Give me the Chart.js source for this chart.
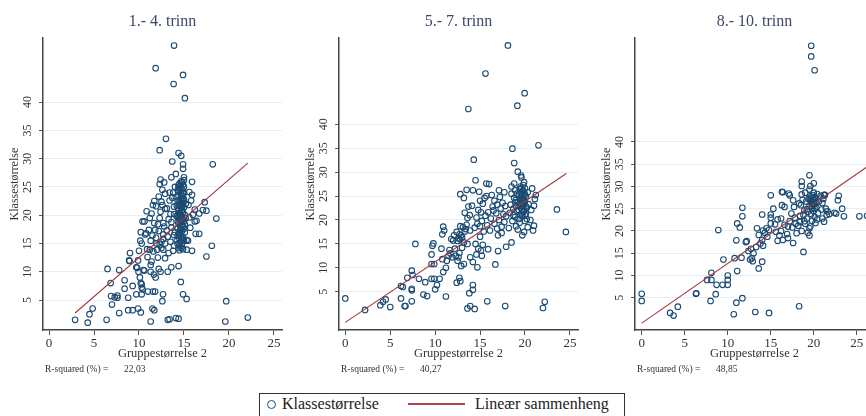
<!DOCTYPE html>
<html>
<head>
<meta charset="utf-8">
<script src="https://cdn.jsdelivr.net/npm/chart.js@4/dist/chart.umd.min.js"></script>
<style>
  html, body { margin: 0; padding: 0; background: #fff; overflow: hidden; }
  body { width: 866px; height: 416px; position: relative; font-family: 'Liberation Serif', serif; }
  canvas { position: absolute; top: 0; }
  .legend { position: absolute; left: 259px; top: 393px; width: 366px; height: 30px; border: 1px solid #333; box-sizing: border-box; }
  .legend .dot { position: absolute; left: 7px; top: 6px; width: 7px; height: 7px; border: 1.3px solid #1b4a72; border-radius: 50%; }
  .legend .ln { position: absolute; left: 148px; top: 9px; width: 57px; height: 1.5px; background: #b0464b; }
  .legend span { position: absolute; top: 0px; font-size: 16px; line-height: 20px; color: #222; }
</style>
</head>
<body>
<canvas id="c1" width="290" height="380" style="left:0px"></canvas>
<canvas id="c2" width="290" height="380" style="left:296px"></canvas>
<canvas id="c3" width="290" height="380" style="left:592px"></canvas>
<div class="legend">
  <div class="dot"></div><span style="left:22px">Klassestørrelse</span>
  <div class="ln"></div><span style="left:215px">Lineær sammenheng</span>
</div>
<script>
// panel titles, tick labels, r-squared
const titles = ['1.- 4. trinn', '5.- 7. trinn', '8.- 10. trinn'];
const rsq = ['22,03', '40,27', '48,85'];
const xTicks = [0, 5, 10, 15, 20, 25];
const yTicks = [5, 10, 15, 20, 25, 30, 35, 40];

// 1.-4. trinn  [gruppestørrelse, klassestørrelse]
const pts14 = [
  [2.9,1.5],[4.3,1.0],[4.5,2.5],[4.85,3.5],[6.4,1.5],[6.5,10.5],[6.85,8.0],[7.0,4.2],[6.9,5.7],[7.3,5.5],[7.6,5.8],[7.6,5.4],
  [7.8,2.7],[7.8,10.3],[8.4,8.5],[8.4,7.0],[8.8,5.4],[8.8,3.2],[8.95,11.9],[9.0,13.3],[8.9,12.0],[9.3,7.5],[9.3,3.2],[9.7,6.0],
  [9.9,3.5],[9.9,12.0],[9.8,10.7],[10.0,13.7],[10.2,2.8],[9.7,10.8],[10.1,9.0],[9.95,10.0],
  [10.2,17.0],[10.15,15.5],[10.3,15.0],[10.2,8.0],[10.3,7.2],[10.3,6.0],[10.5,10.3],[10.4,18.9],[10.6,18.9],[10.85,20.7],
  [10.7,16.6],[10.95,12.6],[11.0,6.5],[11.2,13.9],[10.4,6.9],[10.3,7.8],[10.6,10.2],[10.8,16.8],[10.9,14.0],
  [11.3,11.2],[11.3,10.0],[11.3,1.2],[11.5,3.5],[11.7,3.2],[11.65,9.5],[11.85,9.0],[11.55,6.5],[11.8,6.5],[11.7,22.5],
  [11.55,21.8],[11.9,21.6],[11.7,18.6],[11.8,17.4],[11.9,16.0],[11.95,15.0],[12.0,13.9],[12.1,12.5],[11.4,20.3],[11.2,19.5],
  [11.6,13.6],[11.4,11.8],[11.1,17.4],[11.5,16.4],[11.3,15.5],
  [12.2,10.5],[12.4,10.0],[12.3,19.5],[12.5,15.3],[12.6,21.8],[12.7,13.9],[12.7,15.8],[12.7,16.6],[12.67,6.0],[12.6,4.8],
  [12.7,18.6],[12.9,15.0],[12.8,18.0],[12.9,21.1],[12.4,26.3],[12.8,25.8],[12.3,25.5],[12.3,31.5],[12.2,23.3],[12.5,22.4],
  [12.4,20.6],[12.2,17.2],[12.9,23.8],[12.6,24.5],[12.1,18.4],[12.9,12.4],[12.5,14.2],[12.3,14.8],
  [13.2,10.0],[13.2,1.5],[13.4,24.0],[13.0,33.5],[13.4,1.6],[13.6,10.8],[13.8,13.7],[13.9,16.5],[13.7,29.5],[13.6,26.7],
  [13.8,24.0],[13.3,19.3],[13.5,20.2],[13.1,17.3],[13.6,18.8],[13.9,21.5],[13.4,22.6],[13.7,23.1],[13.2,16.2],[13.5,15.3],
  [13.9,14.6],[13.3,13.3],[13.9,20.2],[13.85,43.2],[13.9,50.0],[13.6,17.8],[13.1,21.2],[11.85,46.0],
  [14.1,1.8],[14.4,1.7],[14.4,11.0],[14.65,8.2],[14.9,6.0],[15.3,5.2],[14.1,27.3],[14.4,31.0],[14.7,30.5],[14.9,29.0],
  [14.9,28.2],[15.0,26.7],[15.0,26.2],[14.4,25.3],[14.3,24.4],[14.9,44.8],[15.1,40.7],
  [14.5,13.8],[14.7,14.2],[14.9,14.0],[14.3,14.9],[14.6,15.2],[14.8,15.0],[15.0,15.5],[14.4,16.0],[14.7,16.3],[14.9,16.1],
  [14.5,16.9],[14.8,17.2],[15.1,17.0],[14.3,17.6],[14.6,17.9],[14.9,18.1],[14.4,18.6],[14.7,18.8],[15.0,18.9],[14.5,19.4],
  [14.8,19.6],[14.3,20.1],[14.6,20.3],[14.9,20.5],[15.1,20.0],[14.4,21.0],[14.7,21.2],[15.0,21.4],[14.5,21.9],[14.8,22.1],
  [14.3,22.6],[14.6,22.8],[14.9,23.0],[14.4,23.5],[14.7,23.7],[15.0,23.9],[14.5,24.4],[14.8,24.6],[14.6,25.2],[14.9,25.4],
  [14.7,26.0],[14.5,19.0],[14.8,20.9],[14.6,17.3],[14.9,22.5],[14.7,24.2],[15.2,19.5],[15.2,22.0],[15.3,15.6],[15.3,13.9],
  [14.2,15.6],[14.2,19.8],[14.2,21.7],[14.1,23.2],[14.0,17.0],[14.0,25.0],
  [14.6,14.5],[14.8,15.8],[14.5,16.5],[14.7,17.6],[14.9,19.2],[14.6,19.9],[14.8,21.6],[14.5,22.4],[14.7,23.0],[14.9,24.0],
  [14.6,24.8],[14.8,25.8],[14.7,15.5],[14.6,16.8],[14.8,18.4],[14.7,20.0],[14.6,21.5],[14.8,23.4],[14.5,25.6],[14.7,22.6],
  [14.4,14.2],[15.0,17.6],[14.4,19.7],[15.0,22.8],[14.4,24.9],[15.0,25.0],[14.3,16.4],[14.3,18.9],[14.3,21.3],[15.1,18.4],
  [15.45,15.5],[15.9,13.7],[15.9,23.6],[15.8,22.6],[16.2,21.0],[16.3,16.7],[16.2,18.9],[16.4,19.0],[16.7,20.3],[17.1,20.9],
  [17.3,22.3],[17.5,20.8],[17.5,12.7],[18.1,14.6],[18.6,19.4],[16.7,16.7],[15.9,25.9],[18.2,29.0],[19.7,4.8],[19.6,1.2],
  [22.1,1.9],[15.6,19.6],[15.7,17.8],[15.5,21.8],[16.0,20.1],[15.6,24.1]
];

// 5.-7. trinn
const pts57 = [
  [0.0,3.6],[2.2,1.2],[3.9,2.2],[4.2,2.9],[4.5,3.4],[5.0,1.8],[6.2,6.2],[6.4,6.0],[6.2,3.6],[6.6,2.0],[6.7,2.0],[6.9,7.9],
  [7.4,9.4],[7.5,8.5],[7.4,5.6],[7.4,5.3],[7.4,3.0],[7.8,15.0],[8.2,7.7],[8.7,4.4],[8.9,7.0],[9.1,4.1],[9.6,7.7],[9.9,7.7],
  [9.6,10.8],[9.9,10.8],[9.6,12.8],[9.8,15.1],[9.7,14.6],
  [10.0,5.5],[10.2,6.4],[10.5,7.7],[10.7,14.0],[10.8,11.8],[10.9,9.1],[11.2,10.0],[11.2,4.0],[10.9,18.6],[11.0,17.8],
  [10.8,17.0],[11.5,12.5],[11.7,13.0],[11.8,16.0],[11.9,12.2],[12.0,15.7],[11.6,13.7],[12.1,16.8],[12.3,12.5],[12.2,14.0],[11.3,11.5],
  [12.4,6.9],[12.7,7.9],[12.8,7.2],[12.9,10.4],[12.5,11.5],[12.6,12.2],[12.7,13.1],[12.5,15.6],[12.6,16.2],[12.8,15.9],
  [12.9,16.8],[12.4,17.5],[12.7,17.0],[13.0,16.4],[13.1,18.5],[12.8,18.7],[13.2,15.3],[12.8,25.4],[13.3,17.6],[13.5,19.0],
  [13.6,15.0],[13.0,14.2],[13.2,10.8],[13.8,4.7],[13.9,2.0],[13.6,1.5],[13.9,12.2],[13.85,21.0],[13.7,43.2],[14.1,23.0],
  [13.3,21.5],[13.4,18.1],[13.9,17.8],[13.6,20.4],[13.7,22.8],[13.2,24.6],[13.5,26.3],
  [14.2,11.2],[14.7,10.1],[14.2,6.4],[14.2,5.4],[14.4,1.4],[14.2,26.2],[14.9,25.9],[14.3,32.6],[14.5,28.3],[15.1,21.6],
  [15.1,13.6],[14.5,15.0],[14.8,14.0],[15.0,16.5],[14.4,18.4],[14.7,19.2],[15.0,18.7],[14.6,20.5],[15.2,19.8],[14.8,22.1],
  [15.3,23.4],[15.5,24.6],[15.7,25.0],[15.0,24.0],[15.4,17.6],[15.6,20.9],[15.8,18.9],[15.9,13.9],[15.7,27.6],[15.6,50.6],
  [15.8,3.0],[15.3,14.8],[15.9,21.6],[16.0,27.5],[14.6,12.8],[15.2,12.5],
  [16.2,20.3],[16.4,22.8],[16.6,19.2],[16.8,21.4],[16.1,17.8],[16.7,10.7],[16.3,25.2],[16.6,24.0],[16.9,18.2],[17.0,13.5],
  [17.1,20.0],[17.3,22.4],[17.0,16.8],[17.4,18.6],[17.6,21.2],[17.2,24.8],[17.5,23.6],[17.8,22.9],[17.9,14.4],[17.8,2.0],
  [17.7,19.6],[17.9,20.8],[17.1,26.2],[16.5,22.0],[16.9,23.2],[17.4,17.3],[17.7,25.8],
  [18.1,56.5],[18.5,27.0],[18.6,34.9],[18.8,31.9],[18.5,15.3],[18.2,18.3],[18.3,21.5],[18.4,23.2],[18.6,19.8],[18.7,22.4],
  [18.8,24.6],[18.9,20.6],[18.5,25.5],[18.9,26.2],[19.0,18.7],[19.1,21.9],[19.2,23.7],[19.15,43.9],[19.2,30.1],[19.3,25.1],
  [19.4,19.4],[19.5,22.6],[19.5,27.0],[19.6,24.3],[19.56,29.3],[19.6,28.9],[19.7,16.8],[19.7,20.9],[19.7,26.0],[19.8,23.0],
  [19.8,27.3],[19.9,17.5],[19.9,22.0],[19.9,25.2],[19.96,46.5],[20.0,19.8],[20.0,23.8],[20.0,26.6],[20.1,21.3],[20.1,24.9],
  [20.2,22.6],[20.3,18.5],[20.3,25.8],[19.3,20.2],[19.0,24.2],[18.8,27.6],[19.4,26.5],[19.6,21.4],[19.2,18.0],[20.2,20.2],
  [19.7,23.5],[19.9,24.5],[20.4,23.3],[19.5,25.6],[19.0,22.9],
  [19.6,25.2],[19.8,24.0],[19.7,22.2],[19.9,23.4],[19.5,24.1],[19.8,26.1],[19.6,23.0],[20.0,25.4],[19.7,24.7],[19.4,23.4],
  [19.8,21.6],[19.6,26.6],[19.9,27.9],[19.3,22.1],[20.1,22.8],[19.5,21.0],[18.9,23.7],[18.7,21.0],[19.1,25.5],[20.0,21.0],
  [20.8,26.6],[20.9,17.8],[21.0,18.8],[21.0,23.0],[20.7,22.1],[21.2,25.2],[21.5,35.6],[22.0,1.6],[22.2,2.9],[23.55,22.2],
  [24.55,17.5],[20.6,20.0],[21.1,24.4]
];

// 8.-10. trinn
const pts810 = [
  [0.0,5.9],[0.0,4.3],[3.3,1.6],[3.7,1.0],[4.2,3.0],[6.3,5.9],[6.35,6.0],[8.0,4.3],[8.6,5.8],[7.6,9.0],[8.1,9.0],[8.1,10.6],
  [8.7,7.9],[9.4,7.9],[10.0,7.9],[10.0,9.0],[10.0,10.0],[9.5,13.6],[8.9,20.2],[10.7,1.3],[11.0,3.9],[11.7,4.9],[10.8,13.9],
  [11.1,11.0],[11.0,17.9],[11.1,21.7],[11.4,20.8],[11.7,23.3],[11.7,25.2],[12.1,17.5],[12.4,15.5],[12.7,16.0],[12.8,13.9],
  [12.9,13.2],[13.2,1.8],[13.6,11.6],[14.0,13.1],[13.4,20.6],[13.6,19.1],[14.0,18.0],[14.1,16.7],[14.0,23.7],[14.1,20.1],
  [14.8,1.6],[15.0,28.0],[15.0,23.7],[15.0,23.0],[15.0,21.7],[14.8,20.2],[15.3,25.0],[15.5,21.5],[15.8,17.8],[16.0,19.0],
  [16.3,25.8],[16.3,28.8],[16.6,25.4],[17.0,18.4],[17.2,28.0],[17.4,23.9],[17.6,26.9],[18.8,15.3],[19.5,19.0],[18.3,3.1],
  [22.6,23.9],[23.3,25.0],[23.5,23.3],[22.8,26.9],[22.9,27.9],[21.2,28.0],[21.0,26.3],[21.4,25.0],[21.6,24.4],[21.2,22.1],
  [25.3,23.3],[26.2,23.4],
  [19.7,61.6],[19.7,59.2],[20.1,56.1],[19.5,32.5],[18.6,31.1],[20.0,30.7],[19.6,30.1],[18.6,30.1],[19.5,29.3],[16.4,28.7],
  [17.1,28.4],[18.6,28.2],[21.2,28.1],
  [18.2,21.2],[18.4,22.0],[18.6,20.0],[18.8,23.6],[18.9,24.6],[18.5,25.8],[19.0,21.6],[19.1,26.6],[19.2,22.8],[19.3,24.3],
  [19.4,27.2],[19.5,20.6],[19.5,25.6],[19.6,26.9],[19.7,23.8],[19.7,27.5],[19.8,25.0],[19.8,22.3],[19.9,26.2],[19.9,28.0],
  [20.0,24.5],[20.0,27.0],[20.1,23.2],[20.1,26.0],[20.2,27.4],[20.2,21.8],[20.3,25.2],[20.4,28.3],[20.5,24.0],[20.6,26.6],
  [20.8,27.9],[20.9,24.8],[21.0,22.8],[19.3,19.6],[19.0,28.6],[18.7,27.0],[17.9,21.6],[17.7,25.4],[17.5,20.8],[17.2,22.2],
  [16.9,19.3],[16.6,21.4],[16.2,20.0],[15.8,22.6],[16.4,18.0],[17.6,17.3],[18.0,19.5],[18.3,26.2],[19.6,21.0],[20.4,22.6],
  [21.3,28.1],[21.5,23.6],[22.4,24.1],[12.2,17.7],[13.3,16.4],[13.8,17.2],[14.3,19.6],[14.5,20.6],[13.0,15.0],[12.6,13.6],[11.6,14.0],
  [19.8,26.6],[20.0,26.0],[19.9,27.2],[20.1,27.6],[19.7,26.3],[20.2,26.4],[19.6,27.8],[20.0,28.6],[19.8,25.6],[20.1,25.1],
  [18.9,22.2],[19.2,24.9],[18.4,23.4],[17.8,23.0],[17.0,21.0],[16.2,22.8],[15.6,19.8],[14.6,18.7],[21.8,23.8],[21.1,27.2]
];

// lineær sammenheng, end points
const fit14X = [2.9, 22.1], fit14Y = [2.7, 29.2];
const fit57X = [0, 24.6], fit57Y = [-1.4, 29.7];
const fit810X = [0, 27.0], fit810Y = [-0.7, 35.5];

const serif = "'Liberation Serif', serif";

const rsqPlugin = {
    id: 'rsq',
    afterDraw(chart, args, opts) {
        const ctx = chart.ctx;
        const a = chart.chartArea;
        ctx.save();
        ctx.font = '9.5px ' + serif;
        ctx.fillStyle = '#333';
        ctx.textBaseline = 'middle';
        ctx.fillText('R-squared (%) =', a.left + 2, 369);
        ctx.fillText(opts.value, a.left + 81, 369);
        ctx.restore();
    }
};

function makePanel(id, i, pts, fx, fy, xr, yr) {
    new Chart(document.getElementById(id), {
        type: 'scatter',
        data: {
            datasets: [{
                type: 'line',
                data: fx.map((x, k) => ({ x: x, y: fy[k] })),
                borderColor: '#a5373b',
                borderWidth: 1.1,
                pointRadius: 0,
                order: 0
            }, {
                data: pts.map(p => ({ x: p[0], y: p[1] })),
                pointStyle: 'circle',
                pointRadius: 2.8,
                pointBorderWidth: 1.1,
                borderColor: '#1b4a72',
                backgroundColor: 'rgba(0,0,0,0)',
                order: 1
            }]
        },
        options: {
            responsive: false,
            animation: false,
            devicePixelRatio: 1,
            layout: { padding: { top: 0, right: 8, bottom: 0, left: 0 } },
            plugins: {
                legend: { display: false },
                tooltip: { enabled: false },
                title: {
                    display: true,
                    text: titles[i],
                    fullSize: false,
                    color: '#3b4869',
                    font: { family: serif, size: 16, weight: 'normal', lineHeight: 1.2 },
                    padding: { top: 12, bottom: 7 }
                },
                rsq: { value: rsq[i] }
            },
            scales: {
                x: {
                    type: 'linear',
                    min: xr[0], max: xr[1],
                    afterBuildTicks: axis => { axis.ticks = xTicks.map(v => ({ value: v })); },
                    afterFit: scale => { scale.height = 50; },
                    grid: { drawOnChartArea: false, drawTicks: true, tickLength: 5, tickColor: '#555' },
                    border: { display: true, color: '#444', width: 1.5 },
                    ticks: { color: '#333', padding: 1, maxRotation: 0, font: { family: serif, size: 13 } },
                    title: {
                        display: true,
                        text: 'Gruppestørrelse 2',
                        color: '#333',
                        font: { family: serif, size: 12.5, lineHeight: 1.2 },
                        padding: { top: 0, bottom: 18.5 }
                    }
                },
                y: {
                    type: 'linear',
                    min: yr[0], max: yr[1],
                    afterBuildTicks: axis => { axis.ticks = yTicks.map(v => ({ value: v })); },
                    afterFit: scale => { scale.width = 43; },
                    grid: { color: '#e6eff1', lineWidth: 1, drawTicks: true, tickLength: 4, tickColor: '#555' },
                    border: { display: true, color: '#444', width: 1.5 },
                    ticks: { color: '#333', padding: 5, minRotation: 90, maxRotation: 90, crossAlign: 'center', font: { family: serif, size: 12 } },
                    title: {
                        display: true,
                        text: 'Klassestørrelse',
                        color: '#333',
                        font: { family: serif, size: 12, lineHeight: 1.2 },
                        padding: { top: 8, bottom: 0 }
                    }
                }
            }
        },
        plugins: [rsqPlugin]
    });
}

makePanel('c1', 0, pts14, fit14X, fit14Y, [-0.67, 25.9], [-0.3, 51.3]);
makePanel('c2', 1, pts57, fit57X, fit57Y, [-0.7, 25.9], [-3.0, 58.0]);
makePanel('c3', 2, pts810, fit810X, fit810Y, [-0.78, 27.0], [-2.24, 63.3]);
</script>
</body>
</html>
